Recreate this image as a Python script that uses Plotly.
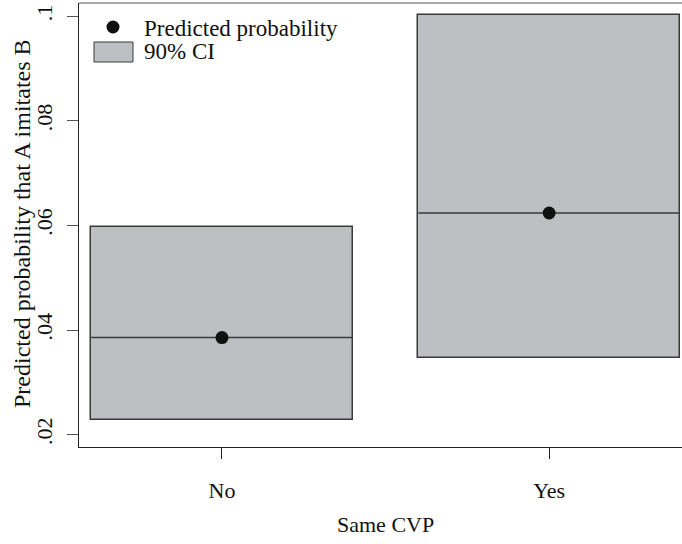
import plotly.graph_objects as go

categories = ["No", "Yes"]
xpos = [0, 1]
predicted = [0.03855, 0.06237]
ci_low = [0.02273, 0.03470]
ci_high = [0.05970, 0.10017]
yticks = [0.02, 0.04, 0.06, 0.08, 0.10]
ytick_text = [".02", ".04", ".06", ".08", ".1"]

FONT = "Liberation Serif"
FS = 22
BOXW = 0.8
GRAY = "#bebfc3"
INK = "#111111"

fig = go.Figure()

fig.add_trace(go.Bar(
    x=xpos, y=[h - l for h, l in zip(ci_high, ci_low)], base=ci_low,
    width=BOXW, marker=dict(color=GRAY, line=dict(color="#3a3a3a", width=1.5)),
    showlegend=False, hoverinfo="skip"))

for x, p in zip(xpos, predicted):
    fig.add_trace(go.Scatter(
        x=[x - BOXW / 2, x + BOXW / 2], y=[p, p], mode="lines",
        line=dict(color="#3a3a3a", width=1.5), showlegend=False, hoverinfo="skip"))

fig.add_trace(go.Scatter(
    x=xpos, y=predicted, mode="markers",
    marker=dict(color=INK, size=13), showlegend=False))

L, R, T, B = 79, 682, 3, 544 - 447
W, H = 682, 544
pw, ph = R - L, H - T - B

def px(x):
    return (x - L) / pw

def py(y):
    return (H - B - y) / ph

# top border line of plot region
fig.add_shape(type="line", xref="paper", yref="paper", x0=0, x1=1, y0=1, y1=1,
              line=dict(color="#8c8c8c", width=1.5))

# manual legend
fig.add_shape(type="circle", xref="paper", yref="paper",
              x0=px(113 - 6.5), x1=px(113 + 6.5), y0=py(27 + 6.5), y1=py(27 - 6.5),
              fillcolor=INK, line=dict(width=0))
fig.add_shape(type="rect", xref="paper", yref="paper",
              x0=px(94), x1=px(133), y0=py(62), y1=py(42),
              fillcolor=GRAY, line=dict(color="#3a3a3a", width=1))
fig.add_annotation(xref="paper", yref="paper", x=px(142), y=py(29), xanchor="left",
                   yanchor="middle", text="Predicted probability", showarrow=False,
                   font=dict(family=FONT, size=23, color=INK))
fig.add_annotation(xref="paper", yref="paper", x=px(142), y=py(51), xanchor="left",
                   yanchor="middle", text="90% CI", showarrow=False,
                   font=dict(family=FONT, size=23, color=INK))

# axis titles
fig.add_annotation(xref="paper", yref="paper", x=px(385), y=py(524), xanchor="center",
                   yanchor="middle", text="Same CVP", showarrow=False,
                   font=dict(family=FONT, size=FS, color=INK))
fig.add_annotation(xref="paper", yref="paper", x=px(22), y=py(224), xanchor="center",
                   yanchor="middle", text="Predicted probability that A imitates B",
                   textangle=-90, showarrow=False,
                   font=dict(family=FONT, size=24, color=INK))

fig.update_layout(
    width=W, height=H, margin=dict(l=L, r=W - R, t=T, b=B),
    plot_bgcolor="white", paper_bgcolor="white",
    font=dict(family=FONT, size=FS, color=INK),
    showlegend=False, bargap=0,
    xaxis=dict(range=[-0.437, 1.406], tickvals=xpos, ticktext=categories,
               tickfont=dict(family=FONT, size=FS, color=INK),
               showgrid=False, zeroline=False, showline=True, linecolor="#222",
               linewidth=1.2, ticks="outside", ticklen=11, tickcolor="#222",
               tickwidth=1.2, ticklabelstandoff=12, fixedrange=True),
    yaxis=dict(range=[0.01763, 0.10252], tickvals=yticks, ticktext=ytick_text,
               tickfont=dict(family=FONT, size=FS, color=INK),
               tickangle=-90, showgrid=False, zeroline=False, showline=True,
               linecolor="#222", linewidth=1.2, ticks="outside", ticklen=11,
               tickcolor="#555", tickwidth=1.2, ticklabelstandoff=6, fixedrange=True),
)

fig.write_html("out.html")
